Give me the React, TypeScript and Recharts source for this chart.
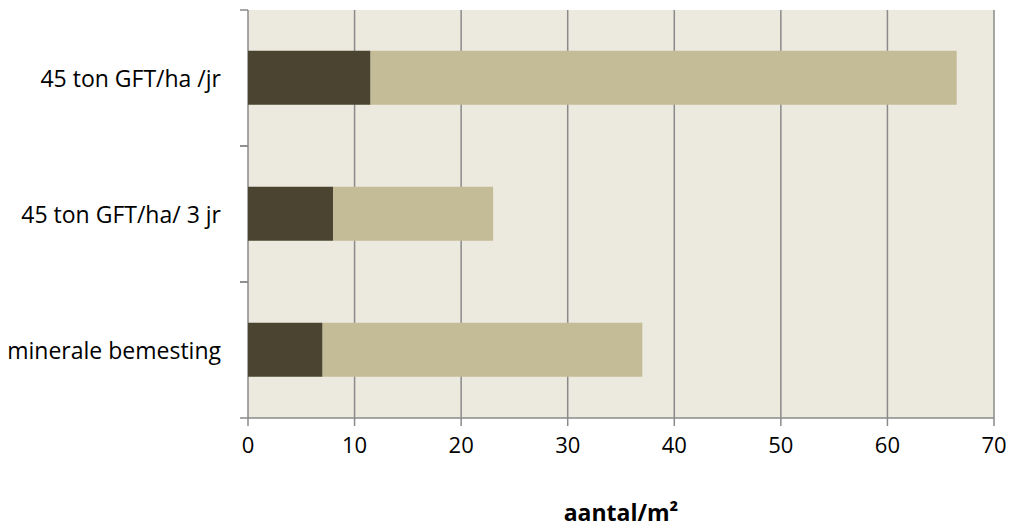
import React from 'react'
import { BarChart, Bar, XAxis, YAxis, CartesianGrid } from 'recharts'

const categories = ['45 ton GFT/ha /jr', '45 ton GFT/ha/ 3 jr', 'minerale bemesting']
const darkValues = [11.5, 8, 7]
const lightValues = [55, 15, 30]
const xTicks = [0, 10, 20, 30, 40, 50, 60, 70]

const data = categories.map((name, i) => ({
  name,
  dark: darkValues[i],
  light: lightValues[i],
}))

const font = '"Open Sans", sans-serif'
const axisColor = '#8a8a8a'
const labelGap = 27

// category label plus tick marks on the band edges (Excel style)
const CategoryTick = (props: any) => {
  const { x, y, payload } = props
  const half = payload?.offset ?? 0
  const axisX = x + labelGap
  return (
    <g>
      <text x={x} y={y} textAnchor="end" dominantBaseline="central" fill="#000" fontSize={23} fontFamily={font}>
        {payload.value}
      </text>
      {half > 0 && (
        <>
          <line x1={axisX - 8} x2={axisX} y1={y - half} y2={y - half} stroke={axisColor} strokeWidth={1.5} />
          <line x1={axisX - 8} x2={axisX} y1={y + half} y2={y + half} stroke={axisColor} strokeWidth={1.5} />
        </>
      )}
    </g>
  )
}

export default function App() {
  return (
    <div style={{ position: 'absolute', left: 0, top: 0, width: 1009, height: 528, background: '#fff', fontFamily: font }}>
      <BarChart
        width={1009}
        height={528}
        data={data}
        layout="vertical"
        margin={{ top: 10, right: 15, bottom: 0, left: 0 }}
        barCategoryGap="30%"
      >
        <CartesianGrid
          horizontal={false}
          fill="#ECE9DF"
          stroke={axisColor}
          strokeWidth={1.5}
          verticalValues={xTicks}
        />
        <XAxis
          type="number"
          domain={[0, 70]}
          ticks={xTicks}
          interval={0}
          height={110}
          stroke={axisColor}
          strokeWidth={1.5}
          tickSize={8}
          tickMargin={11}
          tick={{ fill: '#000', fontSize: 22, fontFamily: font }}
          label={{ value: 'aantal/m²', position: 'insideBottom', offset: 7, fill: '#000', fontSize: 23, fontWeight: 700, fontFamily: font }}
        />
        <YAxis
          type="category"
          dataKey="name"
          width={248}
          axisLine={false}
          tickLine={false}
          tickSize={0}
          tickMargin={labelGap}
          tick={<CategoryTick />}
        />
        <Bar dataKey="dark" stackId="a" fill="#4A4430" isAnimationActive={false} />
        <Bar dataKey="light" stackId="a" fill="#C4BC97" isAnimationActive={false} />
      </BarChart>
    </div>
  )
}
